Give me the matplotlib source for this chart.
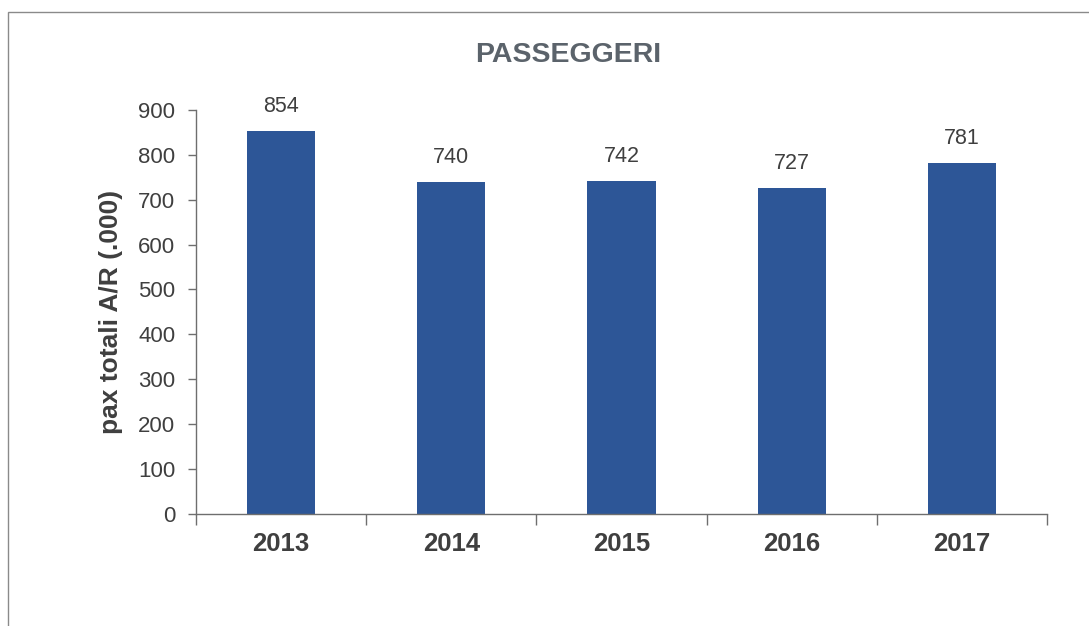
#!/usr/bin/env python

import numpy as np
import matplotlib.pyplot as plt
from matplotlib.patches import Rectangle

plt.rcParams['font.family'] = ['Liberation Sans', 'DejaVu Sans']

years = ['2013', '2014', '2015', '2016', '2017']
pax = [854, 740, 742, 727, 781]
yticks = [0, 100, 200, 300, 400, 500, 600, 700, 800, 900]

bar_col = '#2d5697'
txt_col = '#3f3f3f'
axis_col = '#6e6e6e'


def main():
    fig = plt.figure(figsize=(10.89, 6.26), dpi=100)
    ax = fig.add_axes([0.18, 0.179, 0.7814, 0.6454])

    # scanned frame around the chart
    fig.patches.append(Rectangle((8 / 1089, -0.1), 1.2, 1 - 12 / 626 + 0.1,
                                 transform=fig.transFigure, fill=False,
                                 edgecolor='#8a8a8a', linewidth=1.0))

    x = np.arange(len(years))
    ax.bar(x, pax, width=0.4, color=bar_col)
    for xi, v in zip(x, pax):
        ax.annotate(str(v), (xi, v), xytext=(0, 10), textcoords='offset points',
                    ha='center', va='bottom', fontsize=15.5, color=txt_col)

    ax.set_xlim(-0.5, len(years) - 0.5)
    ax.set_ylim(0, 900)
    ax.set_yticks(yticks)
    ax.tick_params(axis='y', labelsize=16, labelcolor=txt_col, color=axis_col,
                   length=6, width=1, pad=9)

    ax.set_xticks(np.arange(len(years) + 1) - 0.5)
    ax.set_xticklabels([])
    ax.tick_params(axis='x', which='major', color=axis_col, length=8, width=1)
    ax.set_xticks(x, minor=True)
    ax.set_xticklabels(years, minor=True, fontsize=18.5, fontweight='bold',
                       color=txt_col)
    ax.tick_params(axis='x', which='minor', length=0, pad=13)

    for s in ['top', 'right']:
        ax.spines[s].set_visible(False)
    for s in ['left', 'bottom']:
        ax.spines[s].set_color(axis_col)
        ax.spines[s].set_linewidth(1)

    ax.set_ylabel('pax totali A/R (.000)', fontsize=19, fontweight='bold',
                  color=txt_col, labelpad=11)
    fig.text(568 / 1089, 1 - 55 / 626, 'PASSEGGERI', ha='center', va='center',
             fontsize=20.5, fontweight='bold', color='#5b636b')

    plt.savefig('out.png', dpi=100)
    plt.close()


if __name__ == "__main__":
    main()
